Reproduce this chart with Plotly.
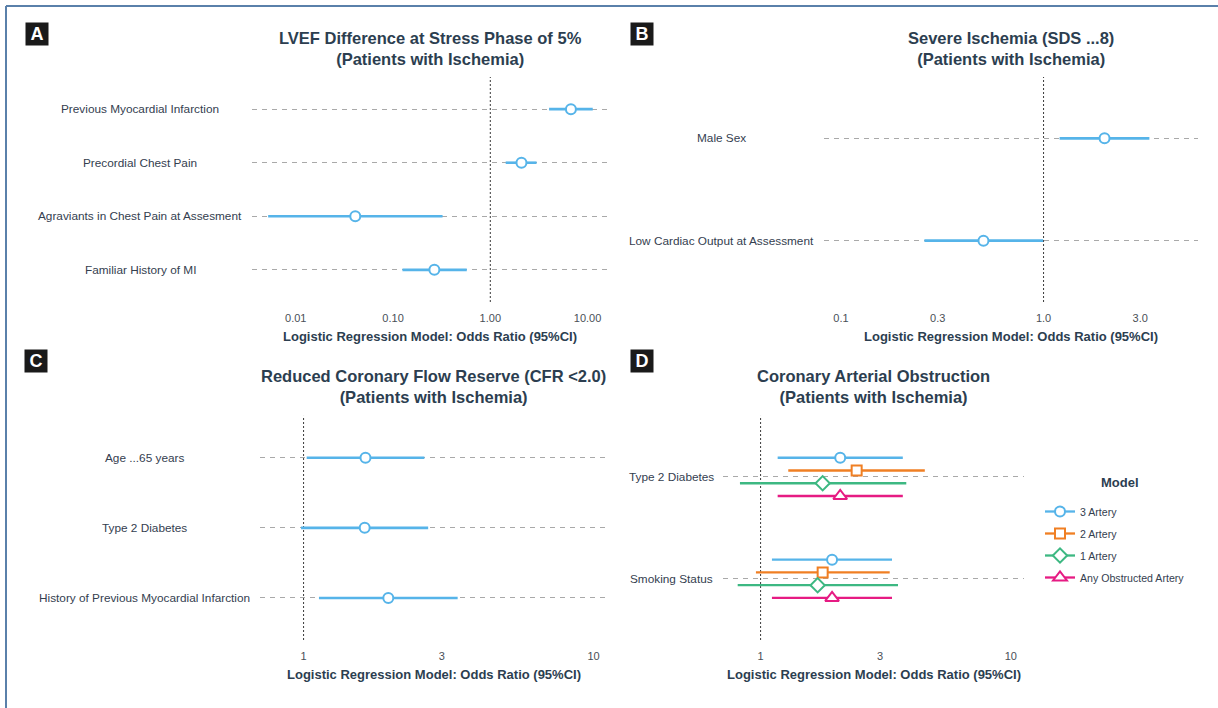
import plotly.graph_objects as go

W, H = 1218, 708
FONT = "Liberation Sans"
TITLE_C = "#2c3e50"
TEXT_C = "#34404f"
TICK_C = "#4a4f57"
GRID_C = "#a9a9a9"

BLUE = "#56B4E9"

# ---- Panel A: LVEF difference at stress phase ----
a_labels = ["Familiar History of MI", "Agraviants in Chest Pain at Assesment",
            "Precordial Chest Pain", "Previous Myocardial Infarction"]
a_or = [0.266, 0.0409, 2.09, 6.74]
a_lo = [0.125, 0.0052, 1.44, 4.02]
a_hi = [0.573, 0.323, 2.99, 11.3]
a_ticks = [0.01, 0.1, 1, 10]
a_ticktext = ["0.01", "0.10", "1.00", "10.00"]

# ---- Panel B: severe ischemia ----
b_labels = ["Low Cardiac Output at Assessment", "Male Sex"]
b_or = [0.505, 2.0]
b_lo = [0.258, 1.20]
b_hi = [0.995, 3.33]
b_ticks = [0.1, 0.3, 1, 3]
b_ticktext = ["0.1", "0.3", "1.0", "3.0"]

# ---- Panel C: reduced coronary flow reserve ----
c_labels = ["History of Previous Myocardial Infarction", "Type 2 Diabetes", "Age ...65 years"]
c_or = [1.96, 1.625, 1.635]
c_lo = [1.13, 0.98, 1.025]
c_hi = [3.40, 2.69, 2.61]
c_ticks = [1, 3, 10]
c_ticktext = ["1", "3", "10"]

# ---- Panel D: coronary arterial obstruction, four models ----
d_labels = ["Smoking Status", "Type 2 Diabetes"]
d_models = ["3 Artery", "2 Artery", "1 Artery", "Any Obstructed Artery"]
d_colors = ["#56B4E9", "#F07F23", "#3DB882", "#E61B83"]
d_symbols = ["circle", "square", "diamond", "triangle-up"]
d_sizes = [10, 10, 11, 12]
# rows: Smoking Status, Type 2 Diabetes
d_or = {"3 Artery": [1.93, 2.08], "2 Artery": [1.77, 2.42],
        "1 Artery": [1.69, 1.77], "Any Obstructed Artery": [1.93, 2.08]}
d_lo = {"3 Artery": [1.11, 1.17], "2 Artery": [0.958, 1.29],
        "1 Artery": [0.81, 0.827], "Any Obstructed Artery": [1.11, 1.17]}
d_hi = {"3 Artery": [3.35, 3.70], "2 Artery": [3.28, 4.53],
        "1 Artery": [3.54, 3.82], "Any Obstructed Artery": [3.35, 3.70]}
d_ticks = [1, 3, 10]
d_ticktext = ["1", "3", "10"]

X_TITLE = "Logistic Regression Model: Odds Ratio (95%CI)"


def fx(x):
    return x / W


def fy(y):
    return 1 - y / H


panels = [
    dict(key="", letter="A", box=(252, 608, 77, 302), xr=[-2.45, 1.21],
         ticks=a_ticks, ticktext=a_ticktext, labels=a_labels, label_x=140,
         letter_xy=(36.5, 34),
         title="LVEF Difference at Stress Phase of 5%<br>(Patients with Ischemia)"),
    dict(key="2", letter="B", box=(824, 1197.5, 77, 302), xr=[-1.084, 0.76],
         ticks=b_ticks, ticktext=b_ticktext, labels=b_labels, label_x=721.5,
         letter_xy=(641.5, 34),
         title="Severe Ischemia (SDS ...8)<br>(Patients with Ischemia)"),
    dict(key="3", letter="C", box=(259.5, 608, 415.7, 640), xr=[-0.152, 1.05],
         ticks=c_ticks, ticktext=c_ticktext, labels=c_labels, label_x=144,
         letter_xy=(36, 360.5),
         title="Reduced Coronary Flow Reserve (CFR <2.0)<br>(Patients with Ischemia)"),
    dict(key="4", letter="D", box=(722.8, 1024.4, 415.7, 640), xr=[-0.151, 1.054],
         ticks=d_ticks, ticktext=d_ticktext, labels=d_labels, label_x=671,
         letter_xy=(641.5, 361),
         title="Coronary Arterial Obstruction<br>(Patients with Ischemia)"),
]

fig = go.Figure()
annotations = []
layout_axes = {}


def add_forest(xref, yref, est, lo, hi, ypos, color, symbol, size, thickness=2.6):
    # point estimate (white-filled marker) with its 95% CI as a horizontal bar
    fig.add_trace(go.Scatter(
        x=est, y=ypos, mode="markers", xaxis=xref, yaxis=yref, showlegend=False,
        marker=dict(symbol=symbol, size=size, color="white",
                    line=dict(color=color, width=2)),
        error_x=dict(type="data", symmetric=False,
                     array=[h - e for h, e in zip(hi, est)],
                     arrayminus=[e - l for e, l in zip(est, lo)],
                     color=color, thickness=thickness, width=0),
    ))


for p in panels:
    k = p["key"]
    xref, yref = "x" + k, "y" + k
    n = len(p["labels"])
    x0, x1, y0, y1 = p["box"]
    cats = list(range(1, n + 1))
    layout_axes["xaxis" + k] = dict(
        type="log", range=p["xr"], domain=[fx(x0), fx(x1)], anchor=yref,
        tickvals=p["ticks"], ticktext=p["ticktext"], showgrid=False,
        zeroline=False, showline=False, ticks="outside", ticklen=6,
        tickcolor="rgba(0,0,0,0)", tickfont=dict(size=11, color=TICK_C, family=FONT),
    )
    layout_axes["yaxis" + k] = dict(
        range=[0.4, n + 0.6], domain=[fy(y1), fy(y0)], anchor=xref,
        tickvals=cats, showticklabels=False, showgrid=True, gridcolor=GRID_C,
        gridwidth=1, griddash="5px,5px", zeroline=False, showline=False, ticks="",
    )
    # reference line at OR = 1
    fig.add_trace(go.Scatter(
        x=[1, 1], y=[0.4, n + 0.6], mode="lines", xaxis=xref, yaxis=yref,
        showlegend=False, hoverinfo="skip",
        line=dict(color="#3a3a3a", width=1, dash="2px,2px"),
    ))
    # category labels, centred under each other
    for i, lab in enumerate(p["labels"]):
        annotations.append(dict(
            x=fx(p["label_x"]), xref="paper", y=cats[i], yref=yref, text=lab,
            showarrow=False, xanchor="center", yanchor="middle",
            font=dict(size=11.8, color=TEXT_C, family=FONT)))
    # panel title and x-axis title
    cx = (x0 + x1) / 2
    annotations.append(dict(
        x=fx(cx), y=fy(y0 - 29), xref="paper", yref="paper",
        text="<b>" + p["title"] + "</b>", showarrow=False,
        xanchor="center", yanchor="middle", align="center",
        font=dict(size=16.5, color=TITLE_C, family=FONT)))
    annotations.append(dict(
        x=fx(cx), y=fy(y1 + 34), xref="paper", yref="paper",
        text="<b>" + X_TITLE + "</b>", showarrow=False,
        xanchor="center", yanchor="middle",
        font=dict(size=13, color=TITLE_C, family=FONT)))
    # panel letter tag
    lx, ly = p["letter_xy"]
    annotations.append(dict(
        x=fx(lx), y=fy(ly), xref="paper", yref="paper",
        text="<b>" + p["letter"] + "</b>", showarrow=False,
        xanchor="center", yanchor="middle", width=22, height=22,
        bgcolor="#1a1a1a", borderpad=0, align="center", valign="middle",
        font=dict(size=18, color="white", family=FONT)))

# single-model panels
add_forest("x", "y", a_or, a_lo, a_hi, [1, 2, 3, 4], BLUE, "circle", 10)
add_forest("x2", "y2", b_or, b_lo, b_hi, [1, 2], BLUE, "circle", 10)
add_forest("x3", "y3", c_or, c_lo, c_hi, [1, 2, 3], BLUE, "circle", 10)

# panel D: models dodged around each category
dodge = 0.5
ng = len(d_models)
for gi, m in enumerate(d_models):
    off = dodge / 2 - dodge / ng * (gi + 0.5)
    ypos = [c + off for c in [1, 2]]
    add_forest("x4", "y4", d_or[m], d_lo[m], d_hi[m], ypos,
               d_colors[gi], d_symbols[gi], d_sizes[gi], thickness=2.3)

# legend entries for the models
for gi, m in enumerate(d_models):
    fig.add_trace(go.Scatter(
        x=[None], y=[None], mode="lines+markers", name=m, xaxis="x4", yaxis="y4",
        legendgroup=m,
        line=dict(color=d_colors[gi], width=2.3),
        marker=dict(symbol=d_symbols[gi], size=d_sizes[gi], color="white",
                    line=dict(color=d_colors[gi], width=2)),
    ))

annotations.append(dict(
    x=fx(1120), y=fy(482), xref="paper", yref="paper", text="<b>Model</b>",
    showarrow=False, xanchor="center", yanchor="middle",
    font=dict(size=13, color=TITLE_C, family=FONT)))

# frame lines along the top and left edges
shapes = [
    dict(type="line", xref="paper", yref="paper", x0=fx(6), x1=1, y0=fy(6), y1=fy(6),
         line=dict(color="#5a80aa", width=2)),
    dict(type="line", xref="paper", yref="paper", x0=fx(6), x1=fx(6), y0=fy(6), y1=0,
         line=dict(color="#5a80aa", width=2)),
]

fig.update_layout(
    width=W, height=H, margin=dict(l=0, r=0, t=0, b=0),
    paper_bgcolor="white", plot_bgcolor="white",
    font=dict(family=FONT, color=TEXT_C),
    annotations=annotations, shapes=shapes,
    legend=dict(
        x=fx(1040), y=fy(497), xanchor="left", yanchor="top",
        font=dict(size=10.6, color=TEXT_C, family=FONT),
        bgcolor="rgba(0,0,0,0)", itemwidth=30, tracegroupgap=3,
    ),
    **layout_axes,
)

fig.write_html("out.html")
